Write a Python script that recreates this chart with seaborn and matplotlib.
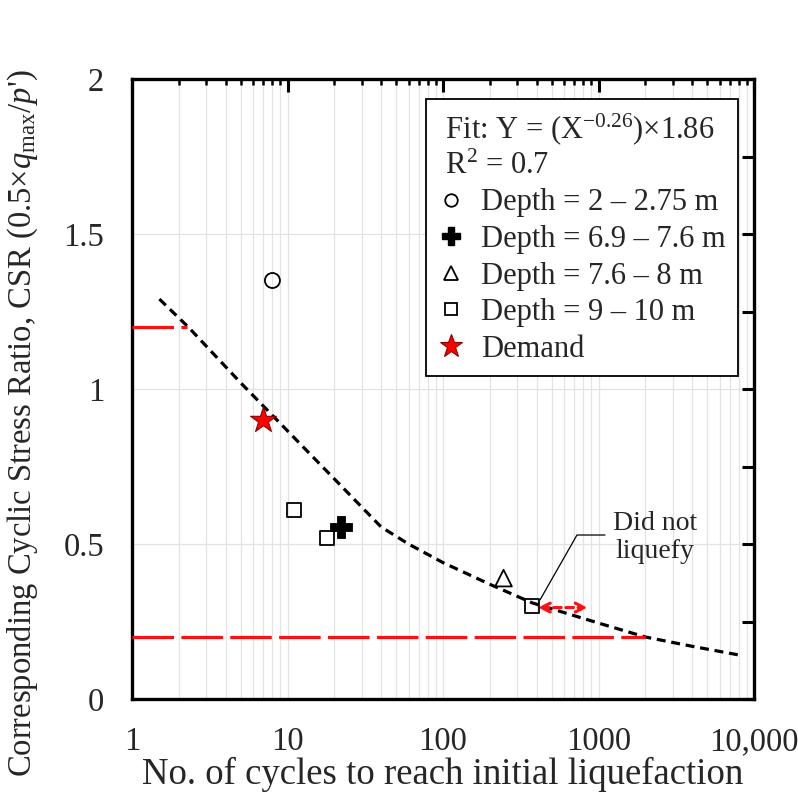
import numpy as np
import pandas as pd
import matplotlib
matplotlib.use("Agg")
import matplotlib.pyplot as plt
from matplotlib.lines import Line2D
from matplotlib.ticker import FixedLocator, NullFormatter, LogLocator, FixedFormatter
import seaborn as sns

# ---------------- data ----------------
circle_x = [8.0]
circle_y = [1.35]
plus_x = [22.0]
plus_y = [0.555]
tri_x = [245.0]
tri_y = [0.39]
square_x = [11.0, 18.0, 375.0]
square_y = [0.61, 0.52, 0.30]
demand_x = [7.0]
demand_y = [0.90]

fit_x = [1.5, 2.3, 5, 10, 20, 40, 60, 100, 200, 375, 1000, 2000, 4000, 8000]
fit_y = [1.29, 1.20, 1.02, 0.865, 0.71, 0.555, 0.50, 0.44, 0.37, 0.31, 0.245, 0.20, 0.17, 0.142]

red_hi_x = [1.0, 2.26]
red_hi_y = [1.2, 1.2]
red_lo_x = [1.0, 2000.0]
red_lo_y = [0.2, 0.2]

arrow_x = [408.0, 850.0]
arrow_y = [0.295, 0.295]

leader_x = [421.0, 727.0, 1101.0]
leader_y = [0.32, 0.529, 0.529]
note_text = "Did not\nliquefy"
note_pos = (2300.0, 0.522)

xticks = [1, 10, 100, 1000, 10000]
xticklabels = ["1", "10", "100", "1000", "10,000"]
yticks = [0, 0.5, 1, 1.5, 2]
yticklabels = ["0", "0.5", "1", "1.5", "2"]
yminor = [0.25, 0.75, 1.25, 1.75]

legend_title = " Fit: Y = (X$^{-0.26}$)×1.86\n R$^{2}$ = 0.7"
legend_labels = ["Depth = 2 – 2.75 m", "Depth = 6.9 – 7.6 m",
                 "Depth = 7.6 – 8 m", "Depth = 9 – 10 m", "Demand"]

xlabel = "No. of cycles to reach initial liquefaction"
ylabel = "Corresponding Cyclic Stress Ratio, CSR (0.5×$q_{\\rm max}$/$p$')"

# ---------------- style ----------------
sns.set_style("white")
plt.rcParams["font.family"] = ["Liberation Serif", "DejaVu Serif"]
plt.rcParams["mathtext.fontset"] = "custom"
plt.rcParams["mathtext.rm"] = "Liberation Serif"
plt.rcParams["mathtext.it"] = "Liberation Serif:italic"
plt.rcParams["mathtext.bf"] = "Liberation Serif:bold"
FS = 22
TICKFS = 23.5

fig = plt.figure(figsize=(7.98, 7.93), dpi=100)
ax = fig.add_axes([132 / 798, 1 - 699 / 793, 622 / 798, 620 / 793])

ax.set_xscale("log")
ax.set_xlim(1, 10000)
ax.set_ylim(0, 2)

# fit curve
sns.lineplot(x=fit_x, y=fit_y, ax=ax, color="black", lw=2.3,
             linestyle=(0, (2.8, 1.8)), sort=True, zorder=3)

# red demand lines
sns.lineplot(x=red_hi_x, y=red_hi_y, ax=ax, color="#ff1010", lw=2.3,
             linestyle=(0, (13, 2.3)), zorder=3)
sns.lineplot(x=red_lo_x, y=red_lo_y, ax=ax, color="#ff1010", lw=2.3,
             linestyle=(0, (13, 2.3)), zorder=3)

# markers
ew = 1.3
sns.scatterplot(x=circle_x, y=circle_y, ax=ax, marker="o", s=117,
                facecolor="none", edgecolor="black", linewidth=ew, zorder=4)
sns.scatterplot(x=plus_x, y=plus_y, ax=ax, marker="P", s=260,
                color="black", edgecolor="black", linewidth=0.6, zorder=4)
sns.scatterplot(x=tri_x, y=tri_y, ax=ax, marker="^", s=144,
                facecolor="none", edgecolor="black", linewidth=ew, zorder=4)
sns.scatterplot(x=square_x, y=square_y, ax=ax, marker="s", s=100,
                facecolor="none", edgecolor="black", linewidth=ew, zorder=4)
sns.scatterplot(x=demand_x, y=demand_y, ax=ax, marker="*", s=380,
                color="#ff0000", edgecolor="#8b0000", linewidth=0.8, zorder=5)

# arrow
ax.annotate("", xy=(arrow_x[1], arrow_y[1]), xytext=(arrow_x[0], arrow_y[0]),
            arrowprops=dict(arrowstyle="<->", color="#ff1010", lw=2.2,
                            linestyle=(0, (2.5, 1.5)), mutation_scale=16,
                            shrinkA=0, shrinkB=0), zorder=5)

# leader line + note
ax.plot(leader_x, leader_y, color="black", lw=0.9, zorder=4)
ax.text(note_pos[0], note_pos[1], note_text, ha="center", va="center",
        fontsize=20, linespacing=1.15, zorder=5)

# axes ticks
ax.xaxis.set_major_locator(FixedLocator(xticks))
ax.xaxis.set_major_formatter(FixedFormatter(xticklabels))
ax.xaxis.set_minor_locator(LogLocator(base=10, subs=np.arange(2, 10), numticks=20))
ax.xaxis.set_minor_formatter(NullFormatter())
ax.yaxis.set_major_locator(FixedLocator(yticks))
ax.yaxis.set_major_formatter(FixedFormatter(yticklabels))
ax.yaxis.set_minor_locator(FixedLocator(yminor))

ax.tick_params(which="both", direction="in", top=True, right=True,
               color="black", width=2.2, labelsize=TICKFS)
ax.tick_params(axis="x", which="major", length=9, pad=20)
ax.tick_params(axis="x", which="minor", length=4.5, width=1.8)
ax.tick_params(axis="y", which="both", length=9, pad=20)

for sp in ax.spines.values():
    sp.set_linewidth(2.4)
    sp.set_color("black")

ax.grid(which="both", axis="x", color="#e3e3e3", lw=0.9)
ax.grid(which="major", axis="y", color="#e3e3e3", lw=0.9)
ax.set_axisbelow(True)

ax.set_xlabel(xlabel, fontsize=26.5, labelpad=0)
ax.set_ylabel(ylabel, fontsize=23.5)
ax.yaxis.set_label_coords(-0.148, 0.445)

# legend
handles = [
    Line2D([], [], ls="none", marker="o", ms=9, mfc="none", mec="black", mew=1.3),
    Line2D([], [], ls="none", marker="P", ms=13, mfc="black", mec="black"),
    Line2D([], [], ls="none", marker="^", ms=10, mfc="none", mec="black", mew=1.3),
    Line2D([], [], ls="none", marker="s", ms=9, mfc="none", mec="black", mew=1.3),
    Line2D([], [], ls="none", marker="*", ms=17, mfc="#ff0000", mec="#8b0000", mew=0.8),
]
leg = ax.legend(handles, legend_labels, title=legend_title, loc="upper right",
                bbox_to_anchor=((738 - 132) / 622, 1 - (99 - 79) / 620),
                borderaxespad=0, fontsize=FS, title_fontsize=FS,
                alignment="left", frameon=True, fancybox=False, framealpha=1,
                edgecolor="black", handlelength=0.8, handletextpad=0.6,
                labelspacing=0.25, borderpad=0.4)
leg.get_frame().set_linewidth(1.3)
leg.set_zorder(6)

fig.savefig("out.png", dpi=100)
